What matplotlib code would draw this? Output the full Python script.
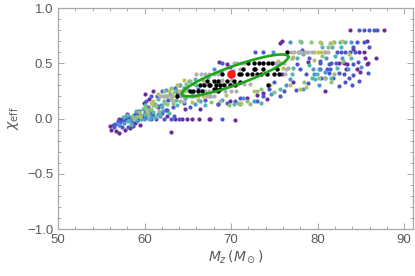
import matplotlib
matplotlib.use("Agg")
import matplotlib.pyplot as plt
from matplotlib.ticker import MultipleLocator
import numpy as np

plt.rcParams['font.family'] = ['Liberation Sans', 'DejaVu Sans']
plt.rcParams['mathtext.fontset'] = 'dejavusans'

# ---- data ----
purple_pts = [(83.7, 0.80), (87.7, 0.80), (75.7, 0.68), (75.9, 0.70), (85.7, 0.70),
              (85.5, 0.55), (86.8, 0.55), (84.8, 0.60), (85.3, 0.60), (85.8, 0.50),
              (83.3, 0.45), (84.6, 0.45), (84.9, 0.42), (83.0, 0.50), (82.5, 0.50),
              (80.9, 0.25), (84.1, 0.63), (68.6, 0.51), (75.9, 0.40), (78.9, 0.51),
              (83.4, 0.49), (85.7, 0.49), (69.5, 0.49), (71.8, 0.19), (73.0, 0.21),
              (73.7, 0.23), (74.1, 0.175), (77.2, 0.33), (69.9, 0.16), (68.5, 0.13),
              (66.4, 0.09), (66.3, 0.0), (67.4, 0.0), (67.6, 0.0), (70.5, -0.01),
              (59.9, 0.145), (59.3, 0.07), (61.0, 0.25), (61.6, 0.10), (63.0, -0.12),
              (56.0, -0.07), (56.1, -0.10), (56.7, -0.11), (57.0, -0.135), (57.7, -0.105),
              (57.0, 0.0), (57.4, 0.0), (58.3, -0.09), (58.7, -0.07), (59.5, -0.06),
              (64.3, 0.0), (64.9, 0.0), (65.5, 0.0), (62.6, 0.025), (63.5, 0.0),
              (60.5, 0.18), (58.0, 0.04), (58.9, -0.04), (60.0, 0.22), (62.5, 0.08),
              (64.7, 0.09), (63.8, 0.23)]

blue_pts = [(84.8, 0.80), (85.3, 0.80), (85.9, 0.80), (86.5, 0.80), (86.9, 0.80),
            (84.5, 0.69), (85.3, 0.69), (84.1, 0.65), (85.9, 0.65), (82.2, 0.60),
            (82.7, 0.60), (83.2, 0.60), (83.7, 0.60), (84.3, 0.60), (80.3, 0.50),
            (81.6, 0.50), (82.1, 0.50), (84.1, 0.49), (84.7, 0.51), (80.3, 0.45),
            (81.1, 0.45), (81.4, 0.45), (81.3, 0.41), (82.5, 0.41), (85.8, 0.41),
            (80.4, 0.37), (80.8, 0.37), (83.2, 0.33), (81.8, 0.37), (84.0, 0.30),
            (82.5, 0.29), (72.8, 0.60), (73.7, 0.60), (69.0, 0.50), (69.9, 0.47),
            (77.6, 0.49), (80.3, 0.52), (81.3, 0.49), (78.0, 0.45), (78.7, 0.40),
            (83.0, 0.40), (84.1, 0.39), (84.8, 0.34), (83.6, 0.37), (76.1, 0.25),
            (75.7, 0.205), (73.7, 0.205), (73.0, 0.16), (71.0, 0.19), (70.4, 0.16),
            (67.6, 0.20), (66.8, 0.25), (64.5, 0.28), (56.6, -0.05), (57.2, -0.03),
            (57.4, -0.08), (58.1, -0.075), (57.9, 0.0), (58.5, 0.0), (58.9, 0.0),
            (59.3, 0.0), (59.7, 0.02), (60.1, 0.005), (60.7, 0.0), (61.3, 0.0),
            (61.8, 0.02), (62.0, 0.245), (62.3, 0.0), (63.0, 0.0), (63.4, 0.02),
            (64.0, 0.0), (69.0, -0.005), (61.6, 0.11), (60.4, 0.10), (57.0, -0.06),
            (56.5, -0.08), (58.6, -0.03), (59.0, 0.05), (60.8, 0.20), (62.7, 0.17),
            (65.5, 0.20), (68.5, 0.13), (74.4, 0.27), (78.9, 0.32), (79.0, 0.55),
            (78.2, 0.62), (77.5, 0.26), (75.0, 0.33),
            (56.3, -0.06), (56.9, -0.02), (57.6, -0.02), (58.2, 0.01), (58.8, 0.03),
            (59.4, 0.04), (60.0, 0.06), (60.6, 0.05), (61.0, 0.03), (62.0, 0.05),
            (62.6, 0.08), (63.3, 0.10), (64.5, 0.14), (65.2, 0.10), (60.2, 0.16),
            (61.4, 0.20), (63.5, 0.28), (66.2, 0.27), (67.0, 0.17), (69.5, 0.14)]

lightblue_pts = [(76.8, 0.69), (83.9, 0.69), (74.8, 0.60), (79.5, 0.45), (80.1, 0.45),
                 (80.9, 0.42), (76.4, 0.30), (76.8, 0.36), (72.6, 0.16), (71.4, 0.19),
                 (66.4, 0.16), (64.7, 0.19), (58.7, 0.0), (59.1, -0.02), (59.9, 0.0),
                 (60.8, 0.01), (61.5, 0.04), (62.1, 0.07), (58.3, -0.01), (57.6, -0.04),
                 (60.3, 0.03), (77.8, 0.60), (81.0, 0.55), (82.8, 0.55), (83.5, 0.45),
                 (85.0, 0.47), (79.6, 0.40), (70.2, 0.43), (68.0, 0.45), (64.0, 0.24),
                 (62.5, 0.20), (65.8, 0.13), (69.0, 0.17), (74.6, 0.22), (78.3, 0.27),
                 (80.2, 0.30), (57.1, -0.05), (57.8, 0.02), (58.5, -0.06), (60.5, 0.07),
                 (61.9, 0.12), (62.5, 0.26), (64.0, 0.30), (65.5, 0.24)]

teal_pts = [(78.05, 0.69), (81.9, 0.69), (82.6, 0.69), (83.2, 0.69), (80.5, 0.65),
            (81.7, 0.65), (82.7, 0.65), (81.6, 0.37), (82.0, 0.57), (77.0, 0.55),
            (77.6, 0.55), (78.3, 0.58), (77.2, 0.46), (82.2, 0.46), (79.9, 0.40),
            (79.3, 0.37), (79.7, 0.36), (77.0, 0.40), (71.0, 0.13), (70.3, 0.13),
            (65.1, 0.34), (64.1, 0.30), (62.9, 0.22), (62.2, 0.16), (61.2, 0.13),
            (60.4, 0.085), (59.9, 0.04), (58.4, -0.045), (59.6, 0.0), (60.5, -0.005),
            (61.2, 0.01), (61.8, 0.03), (63.6, 0.26), (65.8, 0.36), (67.3, 0.38),
            (68.8, 0.43), (75.6, 0.27), (73.4, 0.14), (67.0, 0.12), (63.8, 0.12),
            (60.0, 0.12), (58.0, 0.03), (83.8, 0.55), (79.0, 0.48),
            (57.5, 0.01), (58.1, -0.02), (59.0, 0.07), (59.8, 0.09), (61.0, 0.06),
            (62.0, 0.10), (62.8, 0.05), (63.6, 0.17), (64.3, 0.22), (65.0, 0.26),
            (66.0, 0.30), (61.6, 0.18)]

green_pts = [(79.2, 0.69), (80.4, 0.68), (81.4, 0.68), (81.2, 0.65), (80.5, 0.57),
             (80.1, 0.365), (80.9, 0.37), (81.6, 0.33), (70.8, 0.145), (71.8, 0.16),
             (73.0, 0.25), (73.5, 0.27), (60.8, 0.085), (61.3, 0.11), (61.7, 0.07),
             (62.6, 0.13), (63.3, 0.145), (64.1, 0.16), (60.4, 0.04), (59.5, 0.02),
             (64.8, 0.31), (65.3, 0.34), (66.7, 0.35), (63.4, 0.24), (62.2, 0.25),
             (69.7, 0.12), (72.2, 0.13), (75.0, 0.24), (78.4, 0.33), (81.9, 0.40),
             (82.9, 0.52), (80.9, 0.60), (78.0, 0.70), (76.6, 0.46), (59.0, 0.015),
             (58.5, 0.02), (67.7, 0.15), (68.7, 0.16),
             (58.8, 0.0), (59.4, 0.06), (60.1, 0.10), (61.0, 0.12), (62.3, 0.14),
             (63.0, 0.18), (64.6, 0.27), (65.7, 0.31), (63.0, 0.28), (66.2, 0.17)]

olive_pts = [(80.3, 0.69), (79.6, 0.60), (80.0, 0.60), (80.4, 0.60), (77.1, 0.56),
             (63.3, 0.20), (64.9, 0.20), (66.2, 0.20), (66.8, 0.20), (64.7, 0.25),
             (64.0, 0.25), (68.0, 0.25), (71.2, 0.145), (72.6, 0.25), (74.5, 0.30),
             (76.0, 0.46), (76.8, 0.30), (78.0, 0.27), (78.7, 0.285), (59.5, 0.025),
             (60.3, 0.07), (61.0, 0.16), (62.0, 0.20), (65.5, 0.15), (69.4, 0.21),
             (75.4, 0.52), (82.8, 0.70), (81.8, 0.69), (79.6, 0.53), (83.6, 0.58),
             (60.8, 0.14), (62.8, 0.25), (63.8, 0.30), (64.5, 0.35), (61.5, 0.22)]

gray_pts = [(76.9, 0.60), (77.3, 0.60), (77.7, 0.60), (78.1, 0.60), (78.5, 0.60),
            (78.9, 0.60), (79.3, 0.60), (80.8, 0.60), (81.2, 0.60),
            (70.3, 0.50), (70.7, 0.50), (71.1, 0.50), (71.5, 0.50), (74.9, 0.50),
            (75.3, 0.50), (75.7, 0.50), (76.1, 0.50), (71.0, 0.45), (76.4, 0.45),
            (66.0, 0.40), (66.5, 0.40), (67.0, 0.40), (67.5, 0.40), (68.0, 0.40),
            (68.5, 0.40), (76.2, 0.40), (69.0, 0.35), (70.0, 0.35),
            (66.8, 0.31), (67.5, 0.31), (68.3, 0.31), (69.0, 0.31), (70.0, 0.31),
            (70.8, 0.31), (71.5, 0.31), (72.2, 0.31),
            (64.3, 0.25), (67.0, 0.25), (67.5, 0.25), (69.3, 0.25), (70.0, 0.25), (70.6, 0.25),
            (61.8, 0.20), (62.2, 0.20), (62.6, 0.20), (63.0, 0.20), (63.8, 0.20),
            (64.2, 0.20), (64.6, 0.20), (65.4, 0.20), (65.8, 0.20), (67.2, 0.20),
            (67.6, 0.20), (68.0, 0.20), (63.3, 0.16), (64.6, 0.16)]

black_pts = [(72.0, 0.50), (72.6, 0.50), (73.2, 0.50), (73.7, 0.50), (74.3, 0.50), (74.7, 0.50),
             (71.4, 0.45), (72.6, 0.45), (72.8, 0.45), (73.7, 0.45), (75.3, 0.45),
             (69.0, 0.40), (70.9, 0.40), (71.2, 0.40), (71.8, 0.40), (72.4, 0.40),
             (73.0, 0.40), (73.5, 0.40), (74.1, 0.40), (74.9, 0.40), (75.5, 0.40),
             (67.2, 0.34), (68.0, 0.34), (68.5, 0.34), (69.5, 0.34), (70.3, 0.34),
             (66.4, 0.30), (66.9, 0.30), (67.4, 0.30), (67.6, 0.30), (68.2, 0.30),
             (68.7, 0.30), (69.2, 0.30), (69.9, 0.30), (70.5, 0.30),
             (68.0, 0.27), (68.3, 0.27), (68.7, 0.27),
             (65.2, 0.25), (65.6, 0.25), (66.2, 0.25), (66.6, 0.25), (68.5, 0.25),
             (63.7, 0.20), (76.5, 0.60), (74.3, 0.30), (71.0, 0.33)]

best_fit = (70.0, 0.40)
ellipse_center = (70.45, 0.39)
ellipse_major = (6.15, 0.167)   # half-axis vector
ellipse_minor = (0.0, 0.09)     # conjugate half-axis vector

x_ticks = [50, 60, 70, 80, 90]
y_ticks = [-1.0, -0.5, 0.0, 0.5, 1.0]

# ---- styling ----
group_colors = {
    'purple': '#6a2c9c',
    'blue': '#4a58cc',
    'lightblue': '#4a93d6',
    'teal': '#55b3b0',
    'green': '#8fc07e',
    'olive': '#bcc25a',
}
groups = [('purple', purple_pts), ('blue', blue_pts), ('lightblue', lightblue_pts),
          ('teal', teal_pts), ('green', green_pts), ('olive', olive_pts)]

fig = plt.figure(figsize=(4.15, 2.76), dpi=100)
ax = fig.add_axes([0.1398, 0.170, 0.855, 0.801])

for name, pts in groups:
    arr = np.array(pts)
    ax.scatter(arr[:, 0], arr[:, 1], s=9, color=group_colors[name], linewidths=0, zorder=2)

g = np.array(gray_pts)
ax.scatter(g[:, 0], g[:, 1], s=9, color='#b0b0b0', linewidths=0, zorder=3)
b = np.array(black_pts)
ax.scatter(b[:, 0], b[:, 1], s=10, color='black', linewidths=0, zorder=4)

t = np.linspace(0, 2 * np.pi, 300)
ex = ellipse_center[0] + ellipse_major[0] * np.cos(t) + ellipse_minor[0] * np.sin(t)
ey = ellipse_center[1] + ellipse_major[1] * np.cos(t) + ellipse_minor[1] * np.sin(t)
ax.plot(ex, ey, color='#1ea51e', lw=1.9, zorder=5)

ax.scatter([best_fit[0]], [best_fit[1]], s=38, color='#ff1a1a', linewidths=0, zorder=6)

ax.set_xlim(50, 91)
ax.set_ylim(-1.0, 1.0)
ax.set_xticks(x_ticks)
ax.set_yticks(y_ticks)
ax.set_yticklabels([f"{v:.1f}".replace('-', '\u2212') for v in y_ticks])
ax.xaxis.set_minor_locator(MultipleLocator(2))
ax.yaxis.set_minor_locator(MultipleLocator(0.1))

frame_c = '#a8a8a8'
for sp in ax.spines.values():
    sp.set_color(frame_c)
    sp.set_linewidth(0.9)
ax.tick_params(which='both', direction='in', top=True, right=True, color=frame_c,
               width=0.7, labelcolor='#5a5a5a', labelsize=9.5)
ax.tick_params(which='major', length=4)
ax.tick_params(which='minor', length=2)

ax.set_xlabel(r'$M_z\,(M_\odot)$', fontsize=10, color='#5a5a5a', labelpad=2)
ax.set_ylabel(r'$\chi_{\rm eff}$', fontsize=10, color='#5a5a5a', labelpad=4)

fig.savefig('out.png', dpi=100)
